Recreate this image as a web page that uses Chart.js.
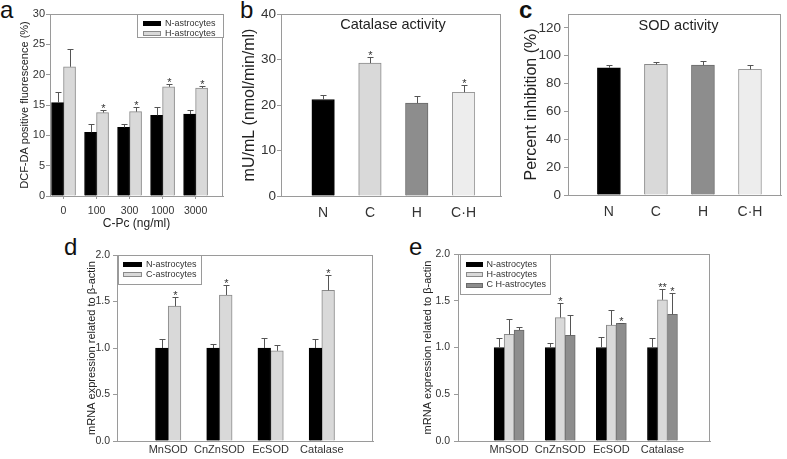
<!DOCTYPE html>
<html>
<head>
<meta charset="utf-8">
<script src="https://cdn.jsdelivr.net/npm/chart.js@4.4.1/dist/chart.umd.min.js"></script>
<style>
  body { margin: 0; background: #fff; width: 787px; height: 459px; position: relative; overflow: hidden; font-family: Arial, "Liberation Sans", sans-serif; }
  canvas { position: absolute; }
  .lt { position: absolute; font-size: 24px; line-height: 24px; color: #111; }
</style>
</head>
<body>
<div class="lt" style="left:0px;top:-2px">a</div>
<div class="lt" style="left:240px;top:-2px">b</div>
<div class="lt" style="left:519px;top:-2px;font-weight:bold">c</div>
<div class="lt" style="left:64px;top:235px">d</div>
<div class="lt" style="left:409px;top:235px">e</div>

<canvas id="chA" width="240" height="232" style="left:0px;top:0px"></canvas>
<canvas id="chB" width="275" height="232" style="left:235px;top:0px"></canvas>
<canvas id="chC" width="277" height="232" style="left:510px;top:0px"></canvas>
<canvas id="chD" width="330" height="224" style="left:60px;top:235px"></canvas>
<canvas id="chE" width="377" height="224" style="left:410px;top:235px"></canvas>

<script>
// ---- panel a: DCF-DA fluorescence
const aCats = ['0', '100', '300', '1000', '3000'];
const aYTicks = ['0', '5', '10', '15', '20', '25', '30'];
const aN = [15.4, 10.5, 11.3, 13.3, 13.5];
const aNErr = [1.8, 1.4, 0.65, 1.4, 0.6];
const aH = [21.3, 13.75, 13.9, 18.0, 17.8];
const aHErr = [2.9, 0.35, 0.7, 0.5, 0.4];
const aHStars = ['', '*', '*', '*', '*'];

// ---- panel b: catalase activity
const bCats = ['N', 'C', 'H', 'C·H'];
const bYTicks = ['0', '10', '20', '30', '40'];
const bVals = [21.2, 29.2, 20.4, 22.8];
const bErr = [0.9, 1.3, 1.5, 1.6];
const bStars = ['', '*', '', '*'];

// ---- panel c: SOD activity
const cCats = ['N', 'C', 'H', 'C·H'];
const cYTicks = ['0', '20', '40', '60', '80', '100', '120'];
const cVals = [91.4, 93.8, 93.3, 90.2];
const cErr = [2.1, 1.9, 3.1, 3.3];

// ---- panel d: mRNA, N vs C
const dCats = ['MnSOD', 'CnZnSOD', 'EcSOD', 'Catalase'];
const mYTicks = ['0.0', '0.5', '1.0', '1.5', '2.0'];
const dN = [1.0, 1.0, 1.0, 1.0];
const dNErr = [0.10, 0.04, 0.11, 0.10];
const dC = [1.45, 1.57, 0.97, 1.62];
const dCErr = [0.10, 0.11, 0.06, 0.16];
const dCStars = ['*', '*', '', '*'];

// ---- panel e: mRNA, N vs H vs C H
const eCats = ['MnSOD', 'CnZnSOD', 'EcSOD', 'Catalase'];
const eN = [1.0, 1.0, 1.0, 1.0];
const eNErr = [0.10, 0.05, 0.11, 0.10];
const eH = [1.14, 1.32, 1.24, 1.51];
const eHErr = [0.16, 0.16, 0.16, 0.12];
const eCH = [1.186, 1.13, 1.258, 1.355];
const eCHErr = [0.035, 0.22, 0.007, 0.225];
const eHStars = ['', '*', '', '**'];
const eCHStars = ['', '', '*', '*'];

const FONT = 'Arial, "Liberation Sans", sans-serif';
const LINE = '#9a9a9a';
const TXT = '#333';
const BLACK = '#000000', LIGHT = '#d9d9d9', DARK = '#8d8d8d', PALE = '#ededed';

const pts = (vals, first) => vals.map((v, i) => ({ x: i + first, y: v }));

// frame, error bars, stars, legend and inner title
const extras = {
  id: 'extras',
  beforeDatasetsDraw(chart) {
    const a = chart.chartArea, ctx = chart.ctx;
    ctx.save();
    ctx.strokeStyle = LINE;
    ctx.lineWidth = 1;
    ctx.strokeRect(Math.round(a.left) + 0.5, Math.round(a.top) + 0.5,
      Math.round(a.right - a.left) - 1, Math.round(a.bottom - a.top));
    ctx.restore();
  },
  afterDatasetsDraw(chart, args, o) {
    const ctx = chart.ctx, ys = chart.scales.y;
    ctx.save();
    chart.data.datasets.forEach((ds, i) => {
      chart.getDatasetMeta(i).data.forEach((bar, j) => {
        const x = Math.round(bar.x) + 0.5;
        const top = Math.round(ys.getPixelForValue(ds.data[j].y + ds.err[j])) + 0.5;
        ctx.strokeStyle = '#555';
        ctx.lineWidth = 1;
        ctx.beginPath();
        ctx.moveTo(x, bar.y);
        ctx.lineTo(x, top);
        ctx.moveTo(x - 3, top);
        ctx.lineTo(x + 3, top);
        ctx.stroke();
        if (ds.stars && ds.stars[j]) {
          ctx.fillStyle = TXT;
          ctx.font = '11px ' + FONT;
          ctx.textAlign = 'center';
          ctx.textBaseline = 'alphabetic';
          ctx.fillText(ds.stars[j], x, top + 1);
        }
      });
    });
    ctx.restore();
  },
  afterDraw(chart, args, o) {
    const ctx = chart.ctx;
    ctx.save();
    if (o.title) {
      ctx.fillStyle = '#222';
      ctx.font = o.title.size + 'px ' + FONT;
      ctx.textAlign = 'center';
      ctx.textBaseline = 'middle';
      ctx.fillText(o.title.text, o.title.x, o.title.y);
    }
    if (o.legend) {
      const L = o.legend;
      ctx.fillStyle = '#fff';
      ctx.fillRect(L.x, L.y, L.w, L.h);
      ctx.strokeStyle = LINE;
      ctx.lineWidth = 1;
      ctx.strokeRect(L.x + 0.5, L.y + 0.5, L.w, L.h);
      ctx.font = L.size + 'px ' + FONT;
      ctx.textAlign = 'left';
      ctx.textBaseline = 'middle';
      chart.data.datasets.forEach((ds, i) => {
        const ry = L.rows[i];
        ctx.fillStyle = ds.backgroundColor;
        ctx.fillRect(L.sx, Math.round(ry - L.sh / 2), L.sw, L.sh);
        ctx.strokeStyle = ds.borderColor;
        ctx.strokeRect(L.sx + 0.5, Math.round(ry - L.sh / 2) + 0.5, L.sw - 1, L.sh - 1);
        ctx.fillStyle = TXT;
        ctx.fillText(ds.label, L.tx, ry);
      });
    }
    ctx.restore();
  }
};
Chart.register(extras);

function yAxis(max, ticks, size, title, titleSize, titlePad, labelPad, width) {
  return {
    type: 'linear', min: 0, max: max,
    afterBuildTicks: s => { s.ticks = ticks.map(t => ({ value: parseFloat(t) })); },
    afterFit: s => { s.width = width; },
    ticks: { callback: (v, i) => ticks[i], font: { family: FONT, size: size }, color: TXT, padding: labelPad },
    grid: { drawOnChartArea: false, drawTicks: true, tickLength: 4, tickColor: LINE, color: LINE },
    border: { color: LINE },
    title: { display: true, text: title, color: '#222', font: { family: FONT, size: titleSize }, padding: { top: titlePad, bottom: 0 } }
  };
}

function xAxis(min, max, cats, first, size, pad, height, tickMarks, title) {
  const ax = {
    type: 'linear', min: min, max: max, offset: false,
    afterBuildTicks: s => { s.ticks = cats.map((c, i) => ({ value: i + first })); },
    afterFit: s => { s.height = height; },
    ticks: { callback: (v, i) => cats[i], font: { family: FONT, size: size }, color: TXT, padding: pad, maxRotation: 0, autoSkip: false },
    grid: { drawOnChartArea: false, drawTicks: tickMarks, tickLength: 3, tickColor: LINE, color: LINE, offset: false },
    border: { color: LINE }
  };
  if (title) ax.title = { display: true, text: title.text, color: '#222', font: { family: FONT, size: title.size }, padding: { top: 0, bottom: title.pad } };
  return ax;
}

function make(id, datasets, thickness, x, y, padding, extraOpts) {
  return new Chart(document.getElementById(id), {
    type: 'bar',
    data: { datasets: datasets.map(d => Object.assign({ borderWidth: 1, barThickness: thickness, grouped: true }, d)) },
    options: {
      responsive: false, animation: false, events: [],
      layout: { padding: padding },
      scales: { x: x, y: y },
      plugins: { legend: { display: false }, tooltip: { enabled: false }, extras: extraOpts }
    }
  });
}

// a
make('chA', [
  { label: 'N-astrocytes', data: pts(aN, 0), err: aNErr, backgroundColor: BLACK, borderColor: BLACK },
  { label: 'H-astrocytes', data: pts(aH, 0), err: aHErr, stars: aHStars, backgroundColor: LIGHT, borderColor: '#8a8a8a' }
], 12,
  xAxis(-0.41, 4.83, aCats, 0, 10.5, 6, 36, true, { text: 'C-Pc (ng/ml)', size: 12, pad: 1 }),
  yAxis(30, aYTicks, 11, 'DCF-DA positive fluorescence (%)', 11, 18, 1, 50),
  { top: 14, right: 17, left: 0, bottom: 0 },
  { legend: { x: 137, y: 14, w: 86, h: 23, rows: [23.3, 33.3], sx: 143, sw: 18, sh: 5, tx: 165, size: 9 } });

// b
make('chB', [
  { label: 'Catalase', data: pts(bVals, 0), err: bErr, stars: bStars,
    backgroundColor: [BLACK, LIGHT, DARK, PALE], borderColor: [BLACK, '#8a8a8a', '#6a6a6a', '#9a9a9a'] }
], 22.5,
  xAxis(-0.9, 3.8, bCats, 0, 14, 9, 36, false, null),
  yAxis(40, bYTicks, 13.5, 'mU/mL (nmol/min/ml)', 16, 5.4, 1, 46),
  { top: 14, right: 9, left: 0, bottom: 0 },
  { title: { text: 'Catalase activity', x: 158, y: 25, size: 14.5 } });

// c
make('chC', [
  { label: 'SOD', data: pts(cVals, 0), err: cErr,
    backgroundColor: [BLACK, LIGHT, DARK, PALE], borderColor: [BLACK, '#8a8a8a', '#6a6a6a', '#9a9a9a'] }
], 23,
  xAxis(-0.87, 3.66, cCats, 0, 14, 9, 37, false, null),
  yAxis(130, cYTicks, 13.5, 'Percent inhibition (%)', 16, 12.4, 3, 58),
  { top: 14, right: 6, left: 0, bottom: 0 },
  { title: { text: 'SOD activity', x: 168.5, y: 26, size: 14.5 } });

// d
make('chD', [
  { label: 'N-astrocytes', data: pts(dN, 1), err: dNErr, backgroundColor: BLACK, borderColor: BLACK },
  { label: 'C-astrocytes', data: pts(dC, 1), err: dCErr, stars: dCStars, backgroundColor: LIGHT, borderColor: '#8a8a8a' }
], 12.7,
  xAxis(0, 5, dCats, 1, 11, 2, 18, false, null),
  yAxis(2, mYTicks, 10.5, 'mRNA expression related to β-actin', 11, 25.4, 3, 57),
  { top: 20, right: 17, left: 0, bottom: 0 },
  { legend: { x: 58, y: 20, w: 83, h: 29, rows: [29.3, 39.3], sx: 63, sw: 19, sh: 5, tx: 86, size: 9 } });

// e
make('chE', [
  { label: 'N-astrocytes', data: pts(eN, 1), err: eNErr, backgroundColor: BLACK, borderColor: BLACK },
  { label: 'H-astrocytes', data: pts(eH, 1), err: eHErr, stars: eHStars, backgroundColor: LIGHT, borderColor: '#8a8a8a' },
  { label: 'C H-astrocytes', data: pts(eCH, 1), err: eCHErr, stars: eCHStars, backgroundColor: DARK, borderColor: '#6a6a6a' }
], 10,
  xAxis(0, 4.93, eCats, 1, 11, 2, 18, false, null),
  yAxis(2, mYTicks, 10.5, 'mRNA expression related to β-actin', 11, 11.4, 4, 48),
  { top: 19, right: 77, left: 0, bottom: 0 },
  { legend: { x: 50, y: 19, w: 90, h: 40, rows: [29.3, 39.3, 50], sx: 56, sw: 17, sh: 5, tx: 76.5, size: 9 } });
</script>
</body>
</html>
